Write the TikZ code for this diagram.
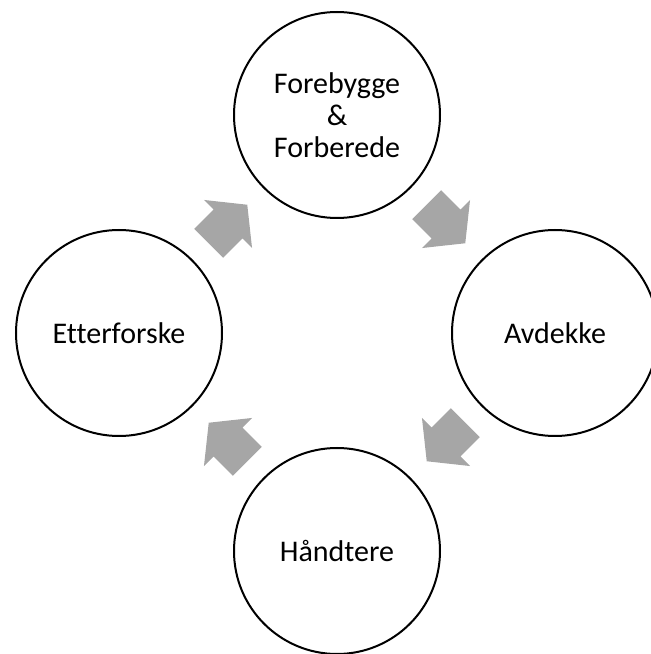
\documentclass[tikz,border=0pt]{standalone}
\usepackage{fontspec}
\setmainfont[Ligatures=NoCommon]{Carlito}
\usetikzlibrary{positioning,calc}
\definecolor{arrowgray}{RGB}{166,166,166}

\begin{document}
\begin{tikzpicture}[x=1pt, y=1pt, node distance=218pt and 218pt, on grid]
    % Define styles
    \tikzstyle{stage} = [draw, circle, line width=2pt, minimum size=206pt, inner sep=0pt, align=center, font=\fontsize{30}{32}\selectfont]
    \tikzset{cyclearrow/.pic={\fill[arrowgray] (-27.25,-20.5) -- (0,-20.5) -- (0,-34) -- (27.25,0) -- (0,34) -- (0,20.5) -- (-27.25,20.5) -- cycle;}}

    \useasboundingbox (0,0) rectangle (651,654);
    \clip (0,0) rectangle (651,654);

    % STAGES
    \node (forebygge) [stage] at (337,539) {Forebygge\\\&\\Forberede};
    \node (avdekke) [stage, below right=of forebygge] {Avdekke};
    \node (haandtere) [stage, below left=of avdekke] {Håndtere};
    \node (etterforske) [stage, above left=of haandtere] {Etterforske};

    % ARROWS
    \pic[rotate=-45] at ($(forebygge)!0.5!(avdekke)$) {cyclearrow};
    \pic[rotate=-135] at ($(avdekke)!0.5!(haandtere)$) {cyclearrow};
    \pic[rotate=135] at ($(haandtere)!0.5!(etterforske)$) {cyclearrow};
    \pic[rotate=45] at ($(etterforske)!0.5!(forebygge)$) {cyclearrow};

\end{tikzpicture}
\end{document}
